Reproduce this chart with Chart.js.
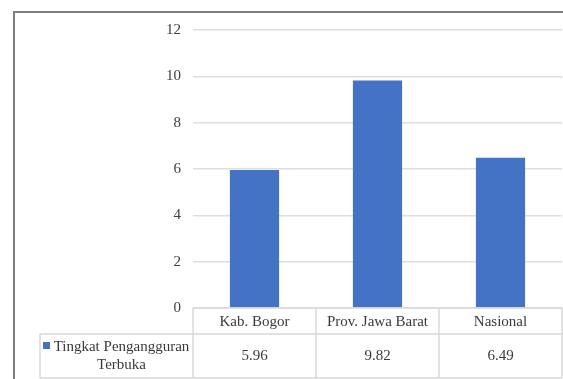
<!DOCTYPE html>
<html>
<head>
<meta charset="utf-8">
<script src="https://cdn.jsdelivr.net/npm/chart.js@4.4.1/dist/chart.umd.min.js"></script>
<style>
  html, body { margin: 0; padding: 0; background: #fff; }
  #wrap { width: 563px; height: 379px; font-family: "Liberation Serif", serif; }
</style>
</head>
<body>
<div id="wrap"><canvas id="c" width="563" height="379"></canvas></div>
<script>
const categories = ['Kab. Bogor', 'Prov. Jawa Barat', 'Nasional'];
const seriesName = ['Tingkat Pengangguran', 'Terbuka'];
const rateValues = [5.96, 9.82, 6.49];
const valueLabels = ['5.96', '9.82', '6.49'];

const SERIF = '"Liberation Serif", "Times New Roman", Times, serif';
const BAR_BLUE = '#4472C4';
const TEXT_DARK = '#3a3a3a';
const TABLE_LINE = '#d9d9d9';

// White page background plus the outer frame of the chart
const framePlugin = {
  id: 'frame',
  beforeDraw(chart) {
    const ctx = chart.ctx;
    ctx.save();
    ctx.fillStyle = '#ffffff';
    ctx.fillRect(0, 0, chart.width, chart.height);
    ctx.restore();
  },
  afterDraw(chart) {
    const ctx = chart.ctx;
    ctx.save();
    ctx.strokeStyle = '#7f7f7f';
    ctx.lineWidth = 2;
    ctx.strokeRect(14, 12, chart.width + 20, chart.height + 20);
    ctx.restore();
  }
};

// Data table under the plot: category header row and a value row with legend key
const dataTablePlugin = {
  id: 'dataTable',
  afterDraw(chart) {
    const ctx = chart.ctx;
    const xs = chart.scales.x;
    const area = chart.chartArea;
    const n = categories.length;
    const colW = (xs.right - xs.left) / n;
    const top = area.bottom;
    const mid = top + 26;
    const bottom = top + 70;
    const keyLeft = 40;

    ctx.save();
    ctx.strokeStyle = TABLE_LINE;
    ctx.lineWidth = 1.5;
    ctx.beginPath();
    // horizontal rules
    ctx.moveTo(xs.left, top); ctx.lineTo(xs.right, top);
    ctx.moveTo(keyLeft, mid); ctx.lineTo(xs.right, mid);
    ctx.moveTo(keyLeft, bottom); ctx.lineTo(xs.right, bottom);
    // vertical rules
    for (let i = 0; i <= n; i++) {
      const x = xs.left + colW * i;
      ctx.moveTo(x, top); ctx.lineTo(x, bottom);
    }
    ctx.moveTo(keyLeft, mid); ctx.lineTo(keyLeft, bottom);
    ctx.stroke();

    ctx.fillStyle = TEXT_DARK;
    ctx.font = '15px ' + SERIF;
    ctx.textAlign = 'center';
    ctx.textBaseline = 'middle';
    categories.forEach((c, i) => {
      const cx = xs.getPixelForValue(i);
      ctx.fillText(c, cx, top + 14);
      ctx.fillText(valueLabels[i], cx, mid + 22);
    });

    // legend key and series name
    const nameX = (keyLeft + xs.left) / 2 + 5;
    ctx.fillText(seriesName[0], nameX, mid + 13);
    ctx.fillText(seriesName[1], nameX, mid + 31);
    ctx.fillStyle = BAR_BLUE;
    ctx.fillRect(43, mid + 8, 7, 7);
    ctx.restore();
  }
};

function build() {
  new Chart(document.getElementById('c'), {
    type: 'bar',
    data: {
      labels: categories,
      datasets: [{
        label: seriesName.join(' '),
        data: rateValues,
        backgroundColor: BAR_BLUE,
        borderWidth: 0,
        barPercentage: 0.8,
        categoryPercentage: 0.5
      }]
    },
    options: {
      responsive: false,
      animation: false,
      devicePixelRatio: 1,
      layout: { padding: { left: 0, top: 30, right: 1, bottom: 71 } },
      plugins: { legend: { display: false }, tooltip: { enabled: false } },
      scales: {
        x: { display: false },
        y: {
          min: 0,
          max: 12,
          ticks: {
            stepSize: 2,
            padding: 12,
            color: '#404040',
            font: { family: SERIF, size: 15 }
          },
          grid: { color: '#dedede', lineWidth: 1.5, drawTicks: false },
          border: { display: false },
          afterFit(scale) { scale.width = 193; }
        }
      }
    },
    plugins: [framePlugin, dataTablePlugin]
  });
}

Chart.defaults.font.family = SERIF;
if (document.fonts && document.fonts.load) {
  document.fonts.load('15px "Liberation Serif"').then(build, build);
} else {
  build();
}
</script>
</body>
</html>
